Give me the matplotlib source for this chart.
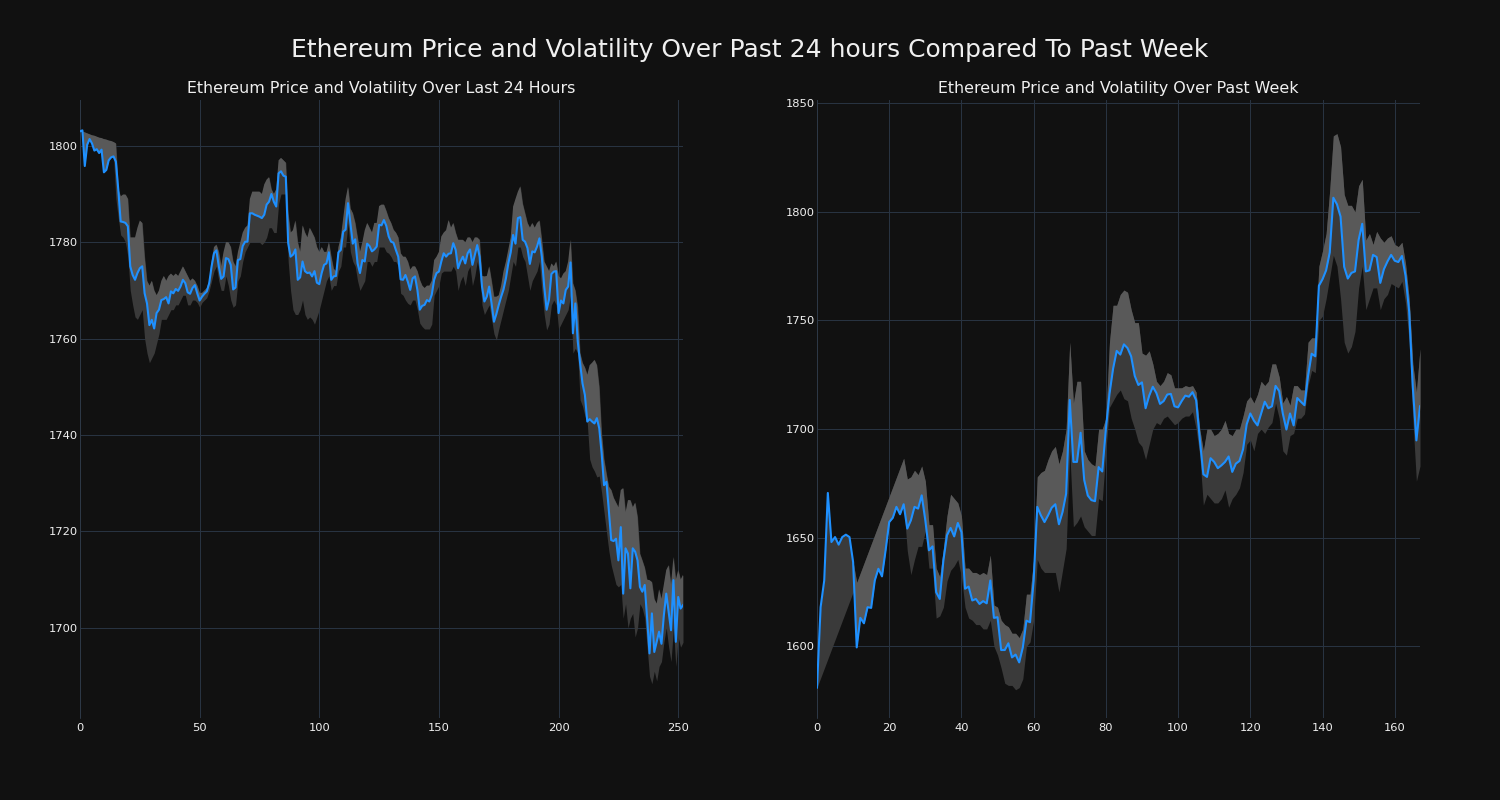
import numpy as np
import matplotlib
matplotlib.use("Agg")
import matplotlib.pyplot as plt

# ---------------- data: last 24 hours ----------------
price_24h = [1803, 1803.2, 1795.8, 1800.2, 1801.4, 1800.5, 1799, 1799.3, 1798.5, 1799.2,
    1794.5, 1795, 1797, 1797.6, 1797.8, 1796.7, 1790.9, 1784.3, 1784.2, 1784,
    1783.3, 1775, 1773.2, 1772.2, 1773.6, 1774.6, 1775, 1769.4, 1767.3, 1762.8,
    1763.9, 1762.1, 1765.3, 1766, 1768, 1768.2, 1768.6, 1767.3, 1769.8, 1769.4,
    1770.3, 1769.9, 1770.8, 1772.2, 1771.5, 1769.6, 1769.3, 1770.5, 1771.1, 1769.4,
    1767.9, 1768.7, 1769.3, 1769.8, 1771.5, 1775, 1777.7, 1778.3, 1775, 1772.4,
    1772.9, 1776.7, 1776.5, 1775.3, 1770.2, 1770.6, 1776.3, 1776.5, 1779.2, 1780.1,
    1780.1, 1786, 1786, 1785.7, 1785.5, 1785.3, 1785, 1785.7, 1787.8, 1788.4,
    1790, 1788.4, 1787.4, 1794.3, 1794.7, 1793.8, 1793.6, 1779.8, 1777, 1777.4,
    1778.5, 1772.2, 1772.7, 1776, 1774, 1773.6, 1773.7, 1772.9, 1774, 1771.6,
    1771.3, 1773.6, 1775.3, 1775.6, 1777.9, 1772.2, 1772.9, 1773, 1777.9, 1778.4,
    1782.2, 1782.6, 1788.1, 1783.9, 1779.7, 1780.6, 1775.6, 1773.6, 1776.3, 1776,
    1779.7, 1779.2, 1778.1, 1778.5, 1779.1, 1783.6, 1783.5, 1784.6, 1783.4, 1781.2,
    1780.1, 1779.9, 1778.4, 1777, 1772.3, 1772.2, 1773.2, 1771.8, 1770.1, 1772.5,
    1772.9, 1770.1, 1766, 1766.8, 1767, 1768, 1767.7, 1769.1, 1772.2, 1773.6,
    1773.9, 1776, 1777.7, 1777, 1777.6, 1777.7, 1779.8, 1778.4, 1774.6, 1776,
    1777, 1775.6, 1777.7, 1778.5, 1775.3, 1777.4, 1779.4, 1777, 1770.8, 1767.7,
    1768.7, 1770.8, 1767.3, 1763.5, 1765.1, 1767, 1768.7, 1770.2, 1772.5, 1775.6,
    1777.9, 1781.5, 1779.7, 1785, 1785.2, 1780.5, 1780.1, 1778.8, 1775.5, 1778.1,
    1777.9, 1779.1, 1780.8, 1777, 1770.8, 1766, 1768.1, 1773.4, 1773.9, 1774,
    1765.3, 1767.9, 1767.3, 1770.1, 1770.8, 1775.8, 1761.1, 1767.3, 1759.5, 1754.9,
    1750.7, 1748.3, 1742.8, 1743.3, 1742.8, 1742.4, 1743.5, 1741.4, 1736.2, 1729.6,
    1730.3, 1724.4, 1718.2, 1718, 1718.5, 1714, 1720.9, 1707.1, 1716.5, 1715.4,
    1708.2, 1716.5, 1715.8, 1714, 1708.5, 1707.5, 1708.9, 1702, 1694.7, 1703,
    1695, 1697.1, 1699.2, 1696.7, 1702.6, 1707.1, 1703.3, 1699.5, 1709.9, 1697.1,
    1706.4, 1704, 1704.7]

upper_24h = [1803.2, 1803.0, 1802.8, 1802.6, 1802.4, 1802.2, 1802.1, 1801.9, 1801.7, 1801.6,
    1801.4, 1801.3, 1801.1, 1801.0, 1800.8, 1800.5, 1791, 1789.5, 1789.9, 1789.9,
    1789, 1781, 1781, 1781, 1783, 1784.5, 1784, 1777, 1772, 1771,
    1772, 1770, 1769, 1770, 1772, 1773, 1772, 1773, 1773.5, 1773,
    1773.5, 1773, 1774, 1775, 1774, 1773, 1772, 1772.5, 1772, 1771,
    1769.5, 1769.5, 1770, 1770.5, 1772, 1776, 1779, 1779.5, 1778, 1775,
    1778, 1780, 1780, 1779, 1776, 1775, 1778, 1780, 1782, 1783,
    1783.5, 1789, 1790.5, 1790.5, 1790.5, 1790.5, 1790, 1792, 1793, 1793.5,
    1791, 1790, 1791, 1797, 1797.5, 1797, 1796.5, 1786, 1782, 1782.5,
    1784.5, 1780, 1778, 1783.5, 1782, 1781, 1783, 1782, 1781, 1779,
    1778, 1779, 1778, 1778, 1780, 1777, 1774.5, 1774, 1779, 1781,
    1785, 1789, 1791.5, 1787, 1786, 1784, 1781, 1778, 1780, 1782.5,
    1784, 1783, 1782, 1784, 1784, 1787.5, 1787.8, 1787.8, 1786.5, 1785,
    1784, 1782.6, 1782, 1781, 1777.7, 1777, 1777, 1776, 1774.3, 1775,
    1775, 1774, 1772.2, 1771, 1770.5, 1771, 1771, 1772, 1776.3, 1777,
    1778, 1781.2, 1782, 1782.5, 1784.6, 1783, 1784, 1782, 1780.5, 1780.5,
    1780.5, 1780, 1781, 1781, 1780, 1781, 1781, 1780.5, 1773, 1772.9,
    1773, 1775, 1772, 1768.7, 1768.7, 1769, 1771, 1774, 1776, 1778.5,
    1781, 1787.4, 1789, 1790.5, 1791.6, 1788, 1786, 1784, 1783, 1784,
    1783, 1784, 1784.5, 1780.5, 1776, 1775, 1774, 1775.6, 1775, 1776,
    1773, 1772.5, 1773.5, 1774, 1776, 1780.5, 1771.5, 1770, 1766.6, 1757,
    1755, 1754, 1752.5, 1754.5, 1755, 1755.6, 1754.5, 1750, 1740.3, 1735,
    1732, 1729.3, 1728.6, 1727, 1726, 1725, 1728.6, 1729, 1724, 1726.5,
    1726.5, 1725, 1726, 1723, 1715.4, 1714, 1712.5, 1710, 1709.9, 1709.5,
    1706, 1705, 1708, 1706, 1709, 1712, 1713, 1709, 1714.7, 1710,
    1712, 1710, 1711]

lower_24h = [1802.9, 1802.9, 1795.8, 1800.2, 1801.4, 1800.5, 1799, 1799.3, 1798.5, 1799.2,
    1794.5, 1795, 1797, 1797.6, 1797.8, 1789, 1785, 1781.5, 1781, 1780,
    1777, 1770, 1767, 1764.5, 1764, 1765, 1766, 1760, 1757, 1755,
    1756, 1757, 1759, 1761, 1764, 1764, 1764, 1765, 1766, 1766,
    1767, 1767, 1768, 1769, 1769, 1767, 1767, 1768, 1768, 1767.5,
    1766.5, 1767.5, 1768, 1768.5, 1770, 1772, 1774, 1775, 1772, 1770,
    1770, 1773, 1771, 1768, 1766.5, 1767, 1772, 1773, 1776, 1778,
    1779, 1780, 1780, 1780, 1780, 1780, 1779.5, 1780, 1781, 1783,
    1783, 1782, 1782, 1788, 1790, 1790, 1790, 1776, 1770, 1766,
    1765, 1765, 1766, 1768, 1765, 1764, 1764.5, 1764, 1763, 1764.5,
    1766, 1768, 1770, 1772, 1773, 1770, 1771, 1771, 1774, 1775,
    1779, 1779, 1784, 1778, 1776, 1775, 1772, 1770, 1771, 1772,
    1776, 1776, 1775, 1776, 1776, 1779, 1779, 1779, 1778, 1777.7,
    1777, 1776, 1776, 1775, 1769.4, 1769, 1768, 1767.3, 1767, 1768,
    1768, 1766, 1763.2, 1762.5, 1762, 1762, 1762, 1763, 1769, 1770,
    1771, 1773.6, 1774, 1774, 1774, 1774, 1775, 1774, 1770, 1772,
    1773, 1771, 1774, 1775, 1771, 1773, 1776, 1774, 1767, 1765,
    1766, 1767, 1764, 1761, 1759.7, 1762, 1764, 1766, 1768, 1770,
    1773, 1776, 1775, 1779, 1779, 1777, 1776, 1773, 1770, 1772,
    1773, 1774, 1776, 1770, 1765, 1761.8, 1763, 1767, 1768, 1767,
    1762, 1763, 1764, 1765, 1766, 1769, 1757, 1758, 1757, 1747.3,
    1746, 1744, 1742.5, 1735, 1733.4, 1732.5, 1731.3, 1731.5, 1728, 1724,
    1720, 1716, 1713, 1711, 1709, 1708.5, 1709, 1702, 1705, 1700,
    1702, 1703, 1698.1, 1700, 1705, 1704, 1702, 1696, 1690, 1688.4,
    1691, 1689, 1692, 1693, 1697, 1700, 1696, 1693, 1700, 1692,
    1698, 1696, 1697]

# ---------------- data: past week ----------------
price_week = [1581, 1618, 1630.3, 1670.6, 1648, 1650.3, 1646.8, 1650.3, 1651.4, 1650.3,
    1638.8, 1599.5, 1613.1, 1610.6, 1618, 1617.7, 1630.3, 1635.7, 1632.2, 1644.2,
    1657.2, 1659.2, 1664.2, 1660.8, 1665.4, 1654.2, 1658, 1664.2, 1663.4, 1669.5,
    1658, 1644.2, 1646, 1624.9, 1621.8, 1639.5, 1651.1, 1654.5, 1650.6, 1656.8,
    1652.6, 1626.5, 1627.5, 1621.1, 1621.8, 1619.5, 1620.8, 1619.8, 1630.3, 1613.1,
    1613.4, 1598.3, 1598.3, 1601.4, 1594.9, 1596.2, 1592.6, 1599.5, 1611.8, 1611.1,
    1630.3, 1664.2, 1660.3, 1657.2, 1660.3, 1663.8, 1665.4, 1656.2, 1661.8, 1670.3,
    1713.4, 1684.9, 1684.9, 1698.3, 1676.6, 1669.4, 1667.3, 1666.8, 1682.5, 1680.5,
    1700, 1716.2, 1727.8, 1736, 1734.3, 1739, 1737.3, 1733.5, 1724.5, 1720.3,
    1721.5, 1709.6, 1715.4, 1719.5, 1716.6, 1711.6, 1712.9, 1715.9, 1716.2, 1710.5,
    1710, 1712.9, 1715.4, 1714.9, 1717, 1713.3, 1695.6, 1679.2, 1678, 1686.6,
    1684.9, 1682, 1683.3, 1684.9, 1687.4, 1680.3, 1684.1, 1685.3, 1690.7, 1702.2,
    1707.2, 1703.9, 1701.7, 1707.2, 1712.6, 1709.6, 1710.5, 1719.9, 1717.5, 1707.2,
    1699.8, 1707.2, 1701.7, 1714.3, 1712.6, 1711, 1724.5, 1734.7, 1733.5, 1766,
    1769, 1773.1, 1781.3, 1806.5, 1803.5, 1797.8, 1774.7, 1769.3, 1771.9, 1772.6,
    1787.1, 1794.5, 1772.6, 1773.1, 1780.2, 1779.2, 1767.3, 1773.6, 1777.2, 1780.2,
    1777.5, 1776.9, 1779.7, 1770.6, 1754.1, 1719.5, 1694.8, 1710.5]

upper_week = [1581, 1618, 1630.3, 1670.6, 1648, 1650.3, 1646.8, 1650.3, 1651.4, 1650.3,
    1638.8, 1629.4, 1633.8, 1638.2, 1642.6, 1647, 1651.4, 1655.8, 1660.2, 1664.6,
    1669, 1673.4, 1677.8, 1682.2, 1686.6, 1677, 1678, 1681, 1679, 1683,
    1676, 1656, 1656, 1636, 1632, 1645, 1660, 1670, 1668, 1666,
    1660, 1636, 1636, 1634, 1634, 1633, 1634, 1633, 1642, 1619,
    1618, 1612, 1610, 1609, 1606, 1606, 1604, 1608, 1624, 1624,
    1640, 1678, 1680, 1681, 1686, 1690, 1692, 1684, 1690, 1700,
    1740, 1712, 1722, 1722, 1690, 1686, 1684, 1683, 1700, 1700,
    1705, 1740, 1757, 1757, 1762, 1764, 1763, 1755, 1749, 1749,
    1735, 1734, 1736, 1730, 1722, 1720, 1722, 1726, 1725, 1719,
    1719, 1719, 1720, 1719.5, 1720, 1717, 1700, 1690, 1700, 1700,
    1697, 1698, 1700, 1704, 1698, 1697, 1700, 1700, 1706, 1713,
    1715, 1712, 1716, 1722, 1720, 1722, 1730, 1730, 1724, 1712,
    1715, 1711, 1720, 1720, 1718, 1718, 1740, 1742, 1742, 1775,
    1782, 1790, 1810, 1835, 1836, 1830, 1808, 1803, 1803, 1800,
    1812, 1815, 1787, 1790, 1785, 1791, 1788, 1786, 1788, 1789,
    1785, 1784, 1786, 1776, 1760, 1730, 1717, 1737]

lower_week = [1581, 1585.4, 1589.8, 1594.2, 1598.6, 1603, 1607.4, 1611.8, 1616.2, 1620.6,
    1625, 1599.5, 1613.1, 1610.6, 1618, 1617.7, 1630.3, 1635.7, 1632.2, 1644.2,
    1657.2, 1659.2, 1664.2, 1660.8, 1665.4, 1644, 1633, 1640, 1646, 1646,
    1653, 1636, 1636, 1613, 1614, 1618, 1630, 1635, 1637, 1640,
    1632, 1618, 1613, 1612, 1610, 1610, 1608, 1608, 1612, 1600,
    1596, 1590, 1583, 1582, 1582, 1580, 1581, 1585, 1600, 1602,
    1612, 1640, 1636, 1634, 1634, 1634, 1634, 1625, 1635, 1645,
    1690, 1655, 1657, 1660, 1655, 1653, 1651, 1651, 1668, 1667,
    1690, 1710, 1713, 1716, 1718, 1714, 1713, 1705, 1700, 1694,
    1692, 1686, 1693, 1700, 1703, 1702, 1705, 1706, 1704, 1702,
    1703, 1705, 1706, 1706, 1708, 1700, 1688, 1665, 1670, 1668,
    1666, 1666, 1668, 1672, 1664, 1668, 1670, 1673, 1680, 1693,
    1695, 1690, 1698, 1700, 1698, 1701, 1703, 1712, 1705, 1690,
    1688, 1697, 1698, 1705, 1705, 1707, 1720, 1727, 1726, 1750,
    1752, 1760, 1770, 1780, 1775, 1760, 1740, 1735, 1738, 1745,
    1765, 1775, 1755, 1760, 1765, 1765, 1755, 1760, 1762, 1767,
    1766, 1765, 1768, 1758, 1740, 1705, 1676, 1683]

suptitle = "Ethereum Price and Volatility Over Past 24 hours Compared To Past Week"
title_24h = "Ethereum Price and Volatility Over Last 24 Hours"
title_week = "Ethereum Price and Volatility Over Past Week"

# ---------------- style ----------------
BG = "#111111"
GRID = "#283341"
LINE = "#1e90ff"
BAND_DARK = "#3a3a3a"
BAND_LIGHT = "#595959"
TXT = "#f0f0f0"

fig = plt.figure(figsize=(20, 10.6667), dpi=75, facecolor=BG)
ax1 = fig.add_axes([80 / 1500, 1 - 718 / 800, 603 / 1500, 618 / 800])
ax2 = fig.add_axes([817 / 1500, 1 - 718 / 800, 603 / 1500, 618 / 800])


def draw(ax, price, upper, lower, title):
    x = np.arange(len(price))
    p = np.asarray(price, dtype=float)
    u = np.asarray(upper, dtype=float)
    lo = np.asarray(lower, dtype=float)
    ax.set_facecolor(BG)
    ax.fill_between(x, lo, u, color=BAND_DARK, lw=0, zorder=1)
    ax.fill_between(x, p, u, where=u >= p, interpolate=True,
                    color=BAND_LIGHT, lw=0, zorder=2)
    ax.plot(x, p, color=LINE, lw=2, zorder=3)
    ax.set_xlim(0, len(price) - 1)
    ax.grid(True, color=GRID, lw=1)
    ax.set_axisbelow(True)
    for s in ("top", "right", "bottom"):
        ax.spines[s].set_visible(False)
    ax.spines["left"].set_color("#2e3a48")
    ax.tick_params(colors=TXT, length=0, labelsize=11, pad=2)
    ax.tick_params(axis="x", pad=5)
    ax.set_title(title, color=TXT, fontsize=15.2, pad=7)


draw(ax1, price_24h, upper_24h, lower_24h, title_24h)
draw(ax2, price_week, upper_week, lower_week, title_week)
ax1.set_xticks([0, 50, 100, 150, 200, 250])
ax1.set_yticks([1700, 1720, 1740, 1760, 1780, 1800])
ax2.set_xticks([0, 20, 40, 60, 80, 100, 120, 140, 160])
ax2.set_yticks([1600, 1650, 1700, 1750, 1800, 1850])
ax1.set_ylim(1681.3, 1809.5)
ax2.set_ylim(1567, 1851.5)

fig.suptitle(suptitle, color=TXT, fontsize=24, y=1 - 50 / 800, va="center")

fig.savefig("out.png", dpi=75, facecolor=BG)
